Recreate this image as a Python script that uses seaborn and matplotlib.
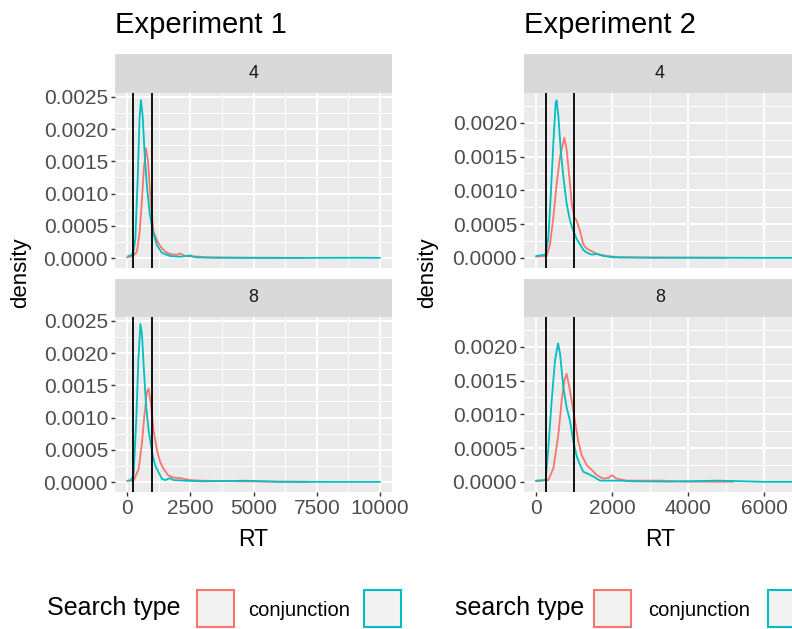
import matplotlib
matplotlib.use("Agg")
import matplotlib.pyplot as plt
from matplotlib.patches import Rectangle
from matplotlib.ticker import MultipleLocator, FormatStrFormatter
import pandas as pd
import seaborn as sns

# Density curves (RT in ms, density)
# Experiment 1, set size 4
e1_s4_conj_rt = [0, 240, 390, 500, 590, 670, 750, 830, 900, 970, 1050, 1180, 1320, 1510, 1710, 1970, 2100, 2300, 2900, 3160, 4000, 5500, 7000]
e1_s4_conj_d = [0.00001, 0.00003, 0.0001, 0.0004, 0.0009, 0.0014, 0.0017, 0.0015, 0.0011, 0.0007, 0.0004, 0.00028, 0.00018, 0.0001, 0.00006, 0.00005, 0.00007, 0.00003, 0.00002, 0.00001, 0.000005, 0.000003, 0.000002]
e1_s4_feat_rt = [40, 150, 250, 330, 420, 500, 550, 620, 700, 790, 895, 1000, 1180, 1380, 1710, 2100, 2500, 2700, 3500, 5000, 7000, 9000, 10000]
e1_s4_feat_d = [0.00003, 0.00004, 0.00008, 0.0003, 0.0012, 0.0022, 0.00245, 0.0022, 0.0016, 0.0011, 0.0007, 0.00045, 0.0002, 0.00008, 0.00003, 0.00002, 0.00004, 0.00001, 0.000005, 0.000003, 0.000002, 0.000004, 0.000002]

# Experiment 1, set size 8
e1_s8_conj_rt = [0, 260, 460, 590, 680, 790, 855, 950, 1050, 1180, 1320, 1450, 1640, 1840, 2100, 2500, 3000, 4500, 6500, 7200]
e1_s8_conj_d = [0.00002, 0.00002, 0.0002, 0.0006, 0.001, 0.0014, 0.00145, 0.0012, 0.0008, 0.0005, 0.0003, 0.0002, 0.0001, 0.00007, 0.00006, 0.00003, 0.00002, 0.00001, 0.000005, 0.000003]
e1_s8_feat_rt = [30, 150, 260, 370, 450, 530, 590, 660, 750, 855, 1000, 1120, 1250, 1380, 1510, 1700, 1840, 2300, 3000, 4700, 6000, 8000, 10000]
e1_s8_feat_d = [0.00002, 0.00003, 0.0001, 0.001, 0.0019, 0.00245, 0.0023, 0.0018, 0.0012, 0.0008, 0.00044, 0.00025, 0.00015, 0.00005, 0.00003, 0.00006, 0.00003, 0.00002, 0.00001, 0.00002, 0.000003, 0.000002, 0.000002]

# Experiment 2, set size 4
e2_s4_conj_rt = [0, 280, 368, 456, 544, 632, 693, 745, 807, 877, 940, 1010, 1070, 1160, 1245, 1333, 1465, 1600, 1860, 2210, 3000, 4000, 5000]
e2_s4_conj_d = [0.00002, 0.00003, 0.0002, 0.0006, 0.0011, 0.0015, 0.00165, 0.00178, 0.0016, 0.0012, 0.0008, 0.0006, 0.00055, 0.0004, 0.0002, 0.00014, 0.0001, 0.00006, 0.00003, 0.00001, 0.000008, 0.000005, 0.000003]
e2_s4_feat_rt = [0, 254, 325, 386, 456, 518, 544, 588, 650, 720, 807, 895, 982, 1070, 1160, 1245, 1333, 1465, 1600, 1770, 2035, 3000, 4700, 6000, 6900]
e2_s4_feat_d = [0.00003, 0.00005, 0.0003, 0.0009, 0.0017, 0.0023, 0.00233, 0.0021, 0.0016, 0.0012, 0.0008, 0.00055, 0.0004, 0.00028, 0.0002, 0.00012, 0.00008, 0.00005, 0.00006, 0.00003, 0.00001, 0.000004, 0.000004, 0.000002, 0.000002]

# Experiment 2, set size 8
e2_s8_conj_rt = [0, 325, 456, 588, 675, 745, 807, 877, 940, 1026, 1114, 1200, 1333, 1465, 1600, 1770, 1900, 2000, 2120, 2390, 3300, 4000, 5200]
e2_s8_conj_d = [0.00001, 0.00003, 0.0002, 0.0007, 0.0012, 0.0015, 0.0016, 0.0014, 0.0012, 0.0009, 0.0006, 0.0004, 0.00025, 0.00018, 0.0001, 0.00005, 0.00006, 0.0001, 0.00005, 0.00002, 0.00002, 0.000005, 0.000003]
e2_s8_feat_rt = [0, 254, 325, 412, 500, 580, 632, 720, 807, 895, 982, 1070, 1160, 1245, 1377, 1510, 1684, 1860, 2210, 2560, 3500, 4800, 6000, 6900]
e2_s8_feat_d = [0.00002, 0.00003, 0.0005, 0.0012, 0.0018, 0.00205, 0.0019, 0.0014, 0.0011, 0.0009, 0.0006, 0.00038, 0.00025, 0.00015, 0.00012, 0.00008, 0.00002, 0.00002, 0.00002, 0.00001, 0.000005, 0.00002, 0.000002, 0.000002]

cutoffs = [250, 1000]
set_sizes = ["4", "8"]
search_types = ["conjunction", "feature"]
colors = {"conjunction": "#F8766D", "feature": "#00BFC4"}

curves = {
    (1, "4", "conjunction"): (e1_s4_conj_rt, e1_s4_conj_d),
    (1, "4", "feature"): (e1_s4_feat_rt, e1_s4_feat_d),
    (1, "8", "conjunction"): (e1_s8_conj_rt, e1_s8_conj_d),
    (1, "8", "feature"): (e1_s8_feat_rt, e1_s8_feat_d),
    (2, "4", "conjunction"): (e2_s4_conj_rt, e2_s4_conj_d),
    (2, "4", "feature"): (e2_s4_feat_rt, e2_s4_feat_d),
    (2, "8", "conjunction"): (e2_s8_conj_rt, e2_s8_conj_d),
    (2, "8", "feature"): (e2_s8_feat_rt, e2_s8_feat_d),
}
rows = []
for (exp, ss, st), (xs, ds) in curves.items():
    for x, d in zip(xs, ds):
        rows.append({"exp": exp, "set_size": ss, "search": st, "RT": x, "density": d})
df = pd.DataFrame(rows)

sns.set_theme(style="darkgrid")
plt.rcParams["font.family"] = ["Liberation Sans", "DejaVu Sans"]

W, H = 792, 629
fig = plt.figure(figsize=(W / 100, H / 100), dpi=100)


def rect(x0, y0, x1, y1):
    return [x0 / W, 1 - y1 / H, (x1 - x0) / W, (y1 - y0) / H]


# layout in pixels
cols = {1: (115, 392), 2: (524, 796)}
strips = {"4": (54, 93), "8": (279, 317)}
panels = {"4": (93, 268), "8": (317, 492)}
xlims = {1: (-474, 10474), 2: (-316, 6842)}
ylims = {1: (-0.000155, 0.00256), 2: (-0.000148, 0.00244)}
xmajor = {1: 2500, 2: 2000}
ylab_x = {1: 21, 2: 428}

for exp in [1, 2]:
    x0, x1 = cols[exp]
    for ss in set_sizes:
        sy0, sy1 = strips[ss]
        sax = fig.add_axes(rect(x0, sy0, x1, sy1))
        sax.set_facecolor("#D9D9D9")
        sax.set_xticks([])
        sax.set_yticks([])
        sax.grid(False)
        for s in sax.spines.values():
            s.set_visible(False)
        sax.text(0.5, 0.5, ss, ha="center", va="center", fontsize=13, color="#1A1A1A", transform=sax.transAxes)

        py0, py1 = panels[ss]
        ax = fig.add_axes(rect(x0, py0, x1, py1))
        ax.set_facecolor("#EBEBEB")
        sub = df[(df["exp"] == exp) & (df["set_size"] == ss)]
        sns.lineplot(data=sub, x="RT", y="density", hue="search", hue_order=search_types,
                     palette=colors, estimator=None, sort=False, units="search",
                     legend=False, ax=ax, linewidth=1.3)
        for c in cutoffs:
            ax.axvline(c, color="black", linewidth=1.3)
        ax.set_xlim(*xlims[exp])
        ax.set_ylim(*ylims[exp])
        ax.xaxis.set_major_locator(MultipleLocator(xmajor[exp]))
        ax.xaxis.set_minor_locator(MultipleLocator(xmajor[exp] / 2))
        ax.yaxis.set_major_locator(MultipleLocator(0.0005))
        ax.yaxis.set_minor_locator(MultipleLocator(0.00025))
        ax.yaxis.set_major_formatter(FormatStrFormatter("%.4f"))
        ax.grid(which="major", color="white", linewidth=1.4)
        ax.grid(which="minor", color="white", linewidth=0.7)
        for s in ax.spines.values():
            s.set_visible(False)
        ax.tick_params(axis="both", which="major", length=3, width=1, color="#333333",
                       labelsize=15, labelcolor="#4D4D4D", pad=2, left=True, bottom=(ss == "8"))
        ax.tick_params(which="minor", length=0)
        ax.set_xlabel("")
        ax.set_ylabel("")
        if ss == "4":
            ax.tick_params(labelbottom=False)

    fig.text(x0 / W, 1 - 25 / H, f"Experiment {exp}", ha="left", va="center", fontsize=21, color="black")
    fig.text((x0 + x1) / 2 / W, 1 - 539 / H, "RT", ha="center", va="center", fontsize=16.5, color="black")
    fig.text(ylab_x[exp] / W, 1 - 273 / H, "density", rotation=90, ha="center", va="center",
             fontsize=16, color="black")

# legends (bottom)
legends = [
    (47, "Search type", 197, 248, 364),
    (455, "search type", 594, 648, 768),
]
for tx, title, rx, lx, cx in legends:
    fig.text(tx / W, 1 - 608 / H, title, ha="left", va="center", fontsize=18, color="black")
    fig.patches.append(Rectangle((rx / W, 1 - 627 / H), 37 / W, 37 / H, transform=fig.transFigure,
                                 facecolor="#F2F2F2", edgecolor=colors["conjunction"], linewidth=1.5))
    fig.text(lx / W, 1 - 610 / H, "conjunction", ha="left", va="center", fontsize=14.5, color="black")
    fig.patches.append(Rectangle((cx / W, 1 - 627 / H), 37 / W, 37 / H, transform=fig.transFigure,
                                 facecolor="#F2F2F2", edgecolor=colors["feature"], linewidth=1.5))

fig.savefig("out.png", dpi=100)
